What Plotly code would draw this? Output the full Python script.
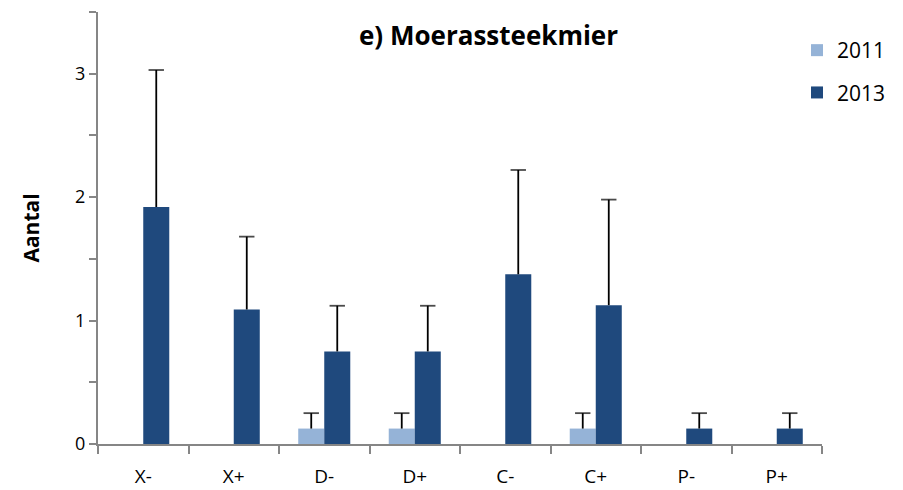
import plotly.graph_objects as go

categories = ["X-", "X+", "D-", "D+", "C-", "C+", "P-", "P+"]
vals_2011 = [0, 0, 0.125, 0.125, 0, 0.125, 0, 0]
err_2011 = [0, 0, 0.125, 0.125, 0, 0.125, 0, 0]
vals_2013 = [1.92, 1.09, 0.75, 0.75, 1.375, 1.125, 0.125, 0.125]
err_2013 = [1.11, 0.59, 0.37, 0.37, 0.845, 0.855, 0.125, 0.125]

FONT = "'Open Sans', sans-serif"
AXC = "#868686"
GAP = 0.425


def err_trace(vals, errs, group):
    xs, ys, sizes = [], [], []
    for c, v, e in zip(categories, vals, errs):
        xs += [c, c, c]
        if e > 0:
            ys += [v, v + e, None]
        else:
            ys += [None, None, None]
        sizes += [0, 11, 0]
    return go.Scatter(
        x=xs, y=ys, mode="lines+markers", offsetgroup=group,
        line=dict(color="black", width=1.8),
        marker=dict(symbol="line-ew", size=sizes, color="black",
                    line=dict(color="black", width=1.8)),
        showlegend=False, hoverinfo="skip", connectgaps=False,
    )


fig = go.Figure()
fig.add_trace(go.Bar(x=categories, y=vals_2011, name="2011", offsetgroup="a",
                     marker=dict(color="#95B3D7", line=dict(width=0)), legendgroup="a"))
fig.add_trace(go.Bar(x=categories, y=vals_2013, name="2013", offsetgroup="b",
                     marker=dict(color="#1F497D", line=dict(width=0)), legendgroup="b"))
fig.add_trace(err_trace(vals_2011, err_2011, "a"))
fig.add_trace(err_trace(vals_2013, err_2013, "b"))

H_PLOT = 490 - 12 - 46
fig.update_layout(
    width=903, height=490,
    margin=dict(l=98, r=81, t=12, b=46, autoexpand=False),
    paper_bgcolor="white", plot_bgcolor="white",
    barmode="group", bargap=GAP, bargroupgap=0,
    scattermode="group", scattergap=GAP,
    font=dict(family=FONT, size=18, color="black"),
    showlegend=True,
    legend=dict(x=0.9655, y=(490 - 46 - 30) / H_PLOT, xanchor="left", yanchor="top",
                font=dict(size=21), traceorder="grouped", tracegroupgap=12,
                itemwidth=30, bgcolor="rgba(0,0,0,0)"),
    annotations=[dict(text="<b>e) Moerassteekmier</b>", x=(488 - 98) / 724,
                      y=(490 - 35 - 46) / H_PLOT, yanchor="middle",
                      xref="paper", yref="paper", showarrow=False,
                      font=dict(size=26, family=FONT))],
)

fig.update_xaxes(
    showline=True, linecolor=AXC, linewidth=2, automargin=False,
    ticks="outside", tickson="boundaries", ticklen=8, tickcolor=AXC, tickwidth=2,
    tickfont=dict(size=19), ticklabelstandoff=14, showgrid=False, zeroline=False,
)
fig.update_yaxes(
    range=[0, 3.5], dtick=1, tick0=0, automargin=False,
    showline=True, linecolor=AXC, linewidth=2,
    ticks="outside", ticklen=7, tickcolor=AXC, tickwidth=2,
    minor=dict(dtick=0.5, ticks="outside", ticklen=7, tickcolor=AXC, tickwidth=2, showgrid=False),
    showgrid=False, zeroline=False,
    tickfont=dict(size=18),
    title=dict(text="<b>Aantal</b>", font=dict(size=21), standoff=30),
)

fig.write_html("out.html", config={"displayModeBar": False},
               post_script="document.body.style.margin='0';document.body.style.overflow='hidden';")
